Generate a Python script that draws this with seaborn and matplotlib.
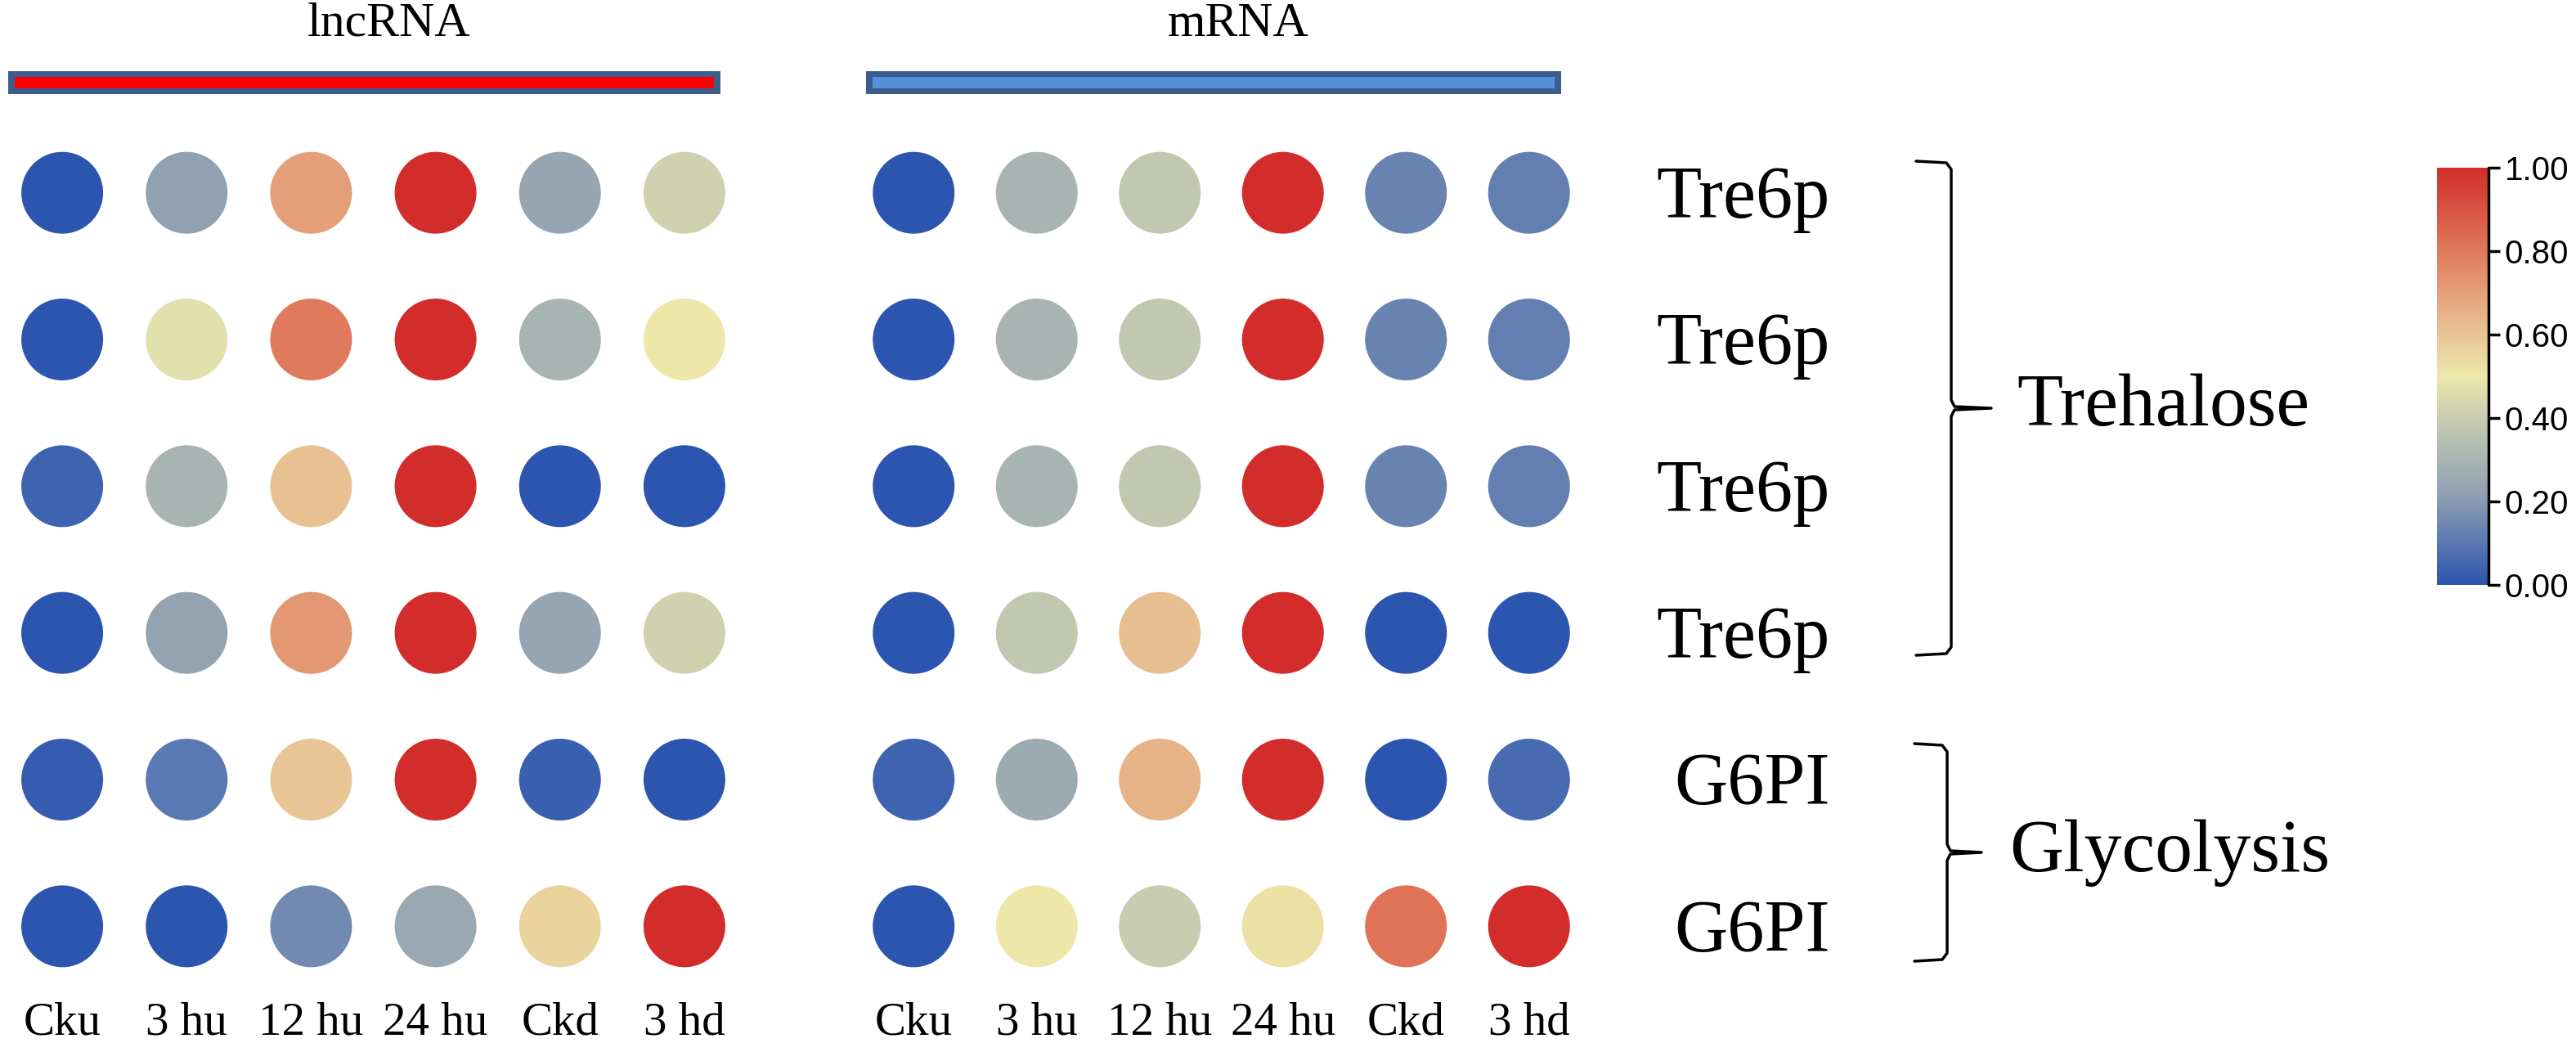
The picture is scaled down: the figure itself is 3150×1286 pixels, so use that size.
import numpy as np
import pandas as pd
import matplotlib
matplotlib.use('Agg')
import matplotlib.pyplot as plt
import seaborn as sns
from matplotlib.colors import LinearSegmentedColormap, Normalize
from matplotlib.cm import ScalarMappable
from matplotlib.patches import Rectangle

# Normalised expression, rows = genes, columns = time points
samples = ['Cku', '3 hu', '12 hu', '24 hu', 'Ckd', '3 hd']
genes = ['Tre6p', 'Tre6p', 'Tre6p', 'Tre6p', 'G6PI', 'G6PI']

lnc_values = [
    [0.00, 0.22, 0.70, 1.00, 0.24, 0.42],
    [0.00, 0.47, 0.80, 1.00, 0.30, 0.50],
    [0.04, 0.30, 0.61, 1.00, 0.00, 0.00],
    [0.00, 0.23, 0.72, 1.00, 0.24, 0.42],
    [0.02, 0.10, 0.60, 1.00, 0.03, 0.00],
    [0.00, 0.00, 0.15, 0.25, 0.56, 1.00],
]
mrna_values = [
    [0.00, 0.30, 0.38, 1.00, 0.13, 0.12],
    [0.00, 0.30, 0.38, 1.00, 0.13, 0.12],
    [0.00, 0.30, 0.38, 1.00, 0.13, 0.12],
    [0.00, 0.38, 0.62, 1.00, 0.00, 0.00],
    [0.04, 0.26, 0.65, 1.00, 0.00, 0.06],
    [0.00, 0.50, 0.40, 0.52, 0.82, 1.00],
]

cmap = LinearSegmentedColormap.from_list('bly', [
    (0.0, '#2c55b0'), (0.2, '#8a9cb2'), (0.4, '#c8ccb0'),
    (0.5, '#ede8aa'), (0.6, '#e8c595'), (0.8, '#e07a5c'), (1.0, '#d22d2a')])
norm = Normalize(0, 1)

W, H = 3150, 1286
sns.set_style('white')
plt.rcParams['font.family'] = ['Liberation Serif', 'DejaVu Serif']
plt.rcParams['text.color'] = 'black'
plt.rcParams['xtick.color'] = 'black'
plt.rcParams['ytick.color'] = 'black'
plt.rcParams['xtick.labelcolor'] = 'black'
plt.rcParams['ytick.labelcolor'] = 'black'
fig = plt.figure(figsize=(W / 100, H / 100), dpi=100)


def fx(px):
    return px / W


def fy(py):
    return 1 - py / H


def to_long(values):
    rows = []
    for i, r in enumerate(values):
        for j, v in enumerate(r):
            rows.append({'sample': j, 'gene': i, 'value': v})
    return pd.DataFrame(rows)


top, bottom = 146, 1222
panels = [(lnc_values, 0, 913, 'lncRNA', '#ff0000'),
          (mrna_values, 1042, 1945, 'mRNA', '#5490d8')]
axes = []
for values, left, right, title, inner in panels:
    ax = fig.add_axes([fx(left), fy(bottom), fx(right - left), (bottom - top) / H])
    sns.scatterplot(data=to_long(values), x='sample', y='gene', hue='value',
                    palette=cmap, hue_norm=norm, s=5184, linewidth=0,
                    legend=False, ax=ax)
    ax.set_xlim(-0.5, 5.5)
    ax.set_ylim(5.5, -0.5)
    ax.set_xticks(range(len(samples)))
    ax.set_xticklabels(samples, fontsize=41, color='black')
    ax.set_yticks([])
    ax.tick_params(axis='x', length=0, pad=2)
    ax.set_xlabel('')
    ax.set_ylabel('')
    for s in ax.spines.values():
        s.set_visible(False)
    ax.patch.set_alpha(0)
    axes.append(ax)

    # header bar and title
    bl = left + 10 if title == 'lncRNA' else left + 17
    br = 881 if title == 'lncRNA' else 1909
    fig.patches.append(Rectangle((fx(bl), fy(115)), fx(br - bl), 28 / H,
                                 transform=fig.transFigure, facecolor='#3b5e8e',
                                 edgecolor='none'))
    fig.patches.append(Rectangle((fx(bl + 8), fy(108)), fx(br - bl - 16), 14 / H,
                                 transform=fig.transFigure, facecolor=inner,
                                 edgecolor='none'))
    fig.text(fx((bl + br) / 2 + 30), fy(30), title, fontsize=43,
             ha='center', va='center', color='black')

# gene labels on the right
ax = axes[1]
trans = matplotlib.transforms.blended_transform_factory(fig.transFigure, ax.transData)
for i, g in enumerate(genes):
    ax.text(fx(2238), i + 0.17, g, transform=trans, fontsize=65,
            ha='right', va='baseline', color='black')


def bracket(y0, y1, x_in, x_bar, x_tip):
    ym = (y0 + y1) / 2
    xs = [x_in, x_bar - 6, x_bar, x_bar, x_bar + 4, x_tip, x_bar + 4,
          x_bar, x_bar, x_bar - 6, x_in]
    ys = [y0, y0 + 2, y0 + 10, ym - 10, ym - 2, ym, ym + 2,
          ym + 10, y1 - 10, y1 - 2, y1]
    fig.add_artist(plt.Line2D([fx(x) for x in xs], [fy(y) for y in ys],
                              transform=fig.transFigure, color='black', lw=2.5))


bracket(197, 801, 2343, 2386, 2435)
bracket(909, 1175, 2341, 2381, 2423)
fig.text(fx(2466), fy(498), 'Trehalose', fontsize=66, ha='left', va='center',
         color='black')
fig.text(fx(2457), fy(1043), 'Glycolysis', fontsize=66, ha='left', va='center',
         color='black')

# colour bar
cax = fig.add_axes([fx(2980), fy(715), fx(63), 510 / H])
cb = fig.colorbar(ScalarMappable(norm=norm, cmap=cmap), cax=cax,
                  ticks=[0, 0.2, 0.4, 0.6, 0.8, 1.0], format='%.2f')
cb.outline.set_visible(False)
cax.axvline(1, color='black', lw=2.5, clip_on=False)
cax.tick_params(length=10, width=2.5, pad=4, labelsize=29, colors='black')
for t in cax.get_yticklabels():
    t.set_fontfamily(['Liberation Sans', 'DejaVu Sans'])

fig.savefig('out.png', dpi=100, facecolor='white')
